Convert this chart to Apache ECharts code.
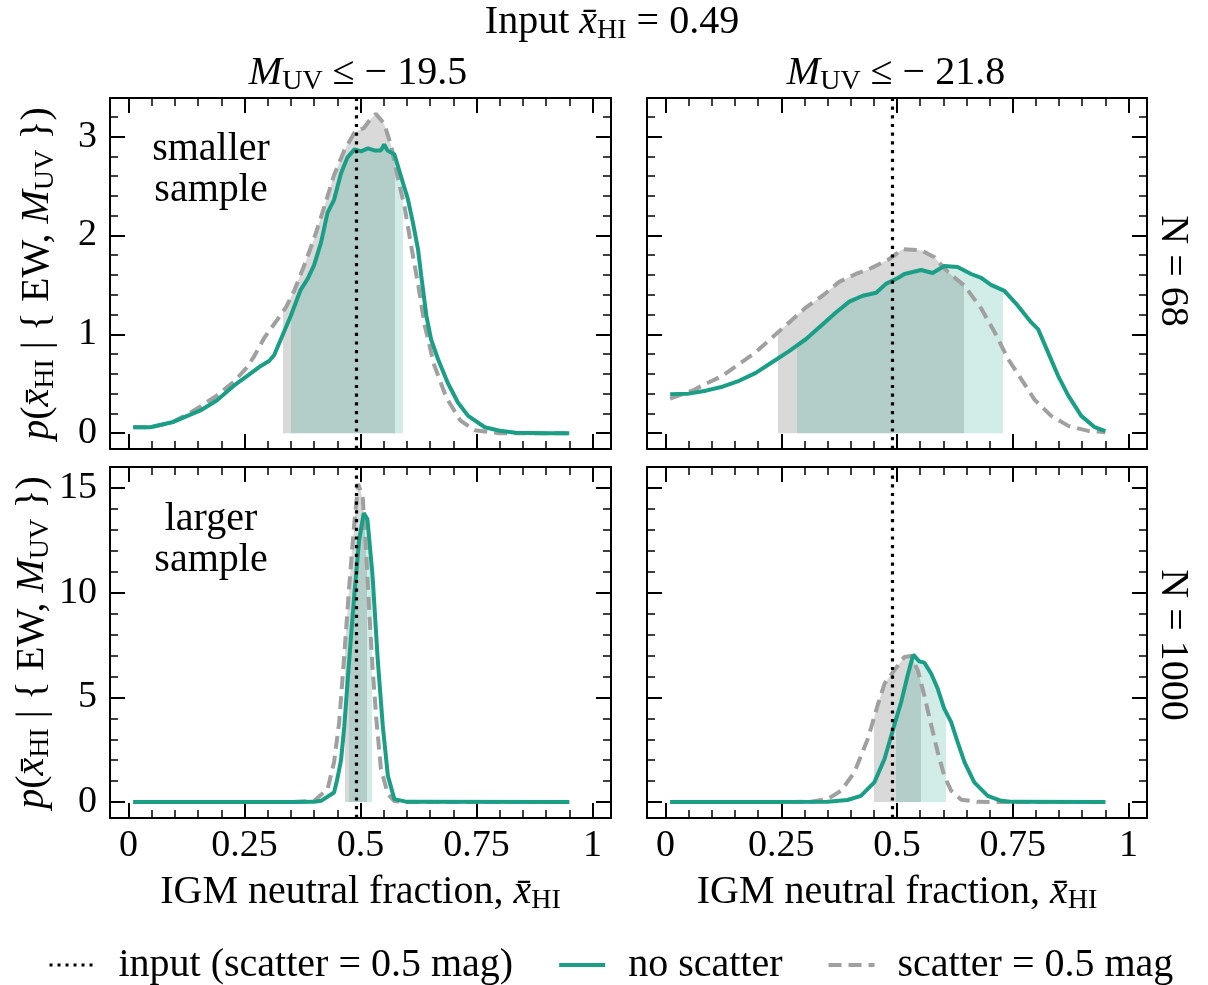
<!DOCTYPE html>
<html><head><meta charset="utf-8">
<script src="https://cdn.jsdelivr.net/npm/echarts@6/dist/echarts.min.js"></script>
<style>html,body{margin:0;padding:0;background:#fff}#c{width:1208px;height:985px}</style>
</head><body><div id="c"></div>
<script>
// ---------------- data ----------------
const xMajorTicks = [0, 0.25, 0.5, 0.75, 1];
const xMinorTicks = [0.05,0.1,0.15,0.2,0.3,0.35,0.4,0.45,0.55,0.6,0.65,0.7,0.8,0.85,0.9,0.95];
const xRange = [-0.04, 1.04];
const yMajorTicksTop = [0, 1, 2, 3];
const yMinorTicksTop = [0.2,0.4,0.6,0.8,1.2,1.4,1.6,1.8,2.2,2.4,2.6,2.8,3.2];
const yRangeTop = [-0.16, 3.39];
const yMajorTicksBottom = [0, 5, 10, 15];
const yMinorTicksBottom = [1,2,3,4,6,7,8,9,11,12,13,14];
const yRangeBottom = [-0.76, 16.0];
const inputXHI = 0.49;

// top-left: M_UV <= -19.5, N = 68
const tlNoScatter = [[0.01,0.06],[0.047,0.06],[0.094,0.11],[0.127,0.175],[0.155,0.23],[0.19,0.33],[0.227,0.48],[0.256,0.58],[0.285,0.68],[0.303,0.73],[0.314,0.79],[0.332,0.99],[0.35,1.19],[0.371,1.45],[0.386,1.56],[0.40,1.70],[0.415,1.93],[0.429,2.23],[0.443,2.36],[0.458,2.63],[0.472,2.79],[0.487,2.87],[0.501,2.85],[0.516,2.88],[0.53,2.86],[0.544,2.86],[0.551,2.92],[0.558,2.86],[0.573,2.82],[0.591,2.54],[0.602,2.37],[0.613,2.13],[0.624,1.86],[0.631,1.59],[0.642,1.19],[0.652,0.95],[0.667,0.75],[0.688,0.51],[0.71,0.31],[0.732,0.175],[0.768,0.06],[0.80,0.025],[0.835,0.005],[0.9,0.0],[0.95,0.0]];
const tlScatter = [[0.01,0.06],[0.047,0.06],[0.094,0.11],[0.127,0.19],[0.155,0.27],[0.19,0.38],[0.227,0.52],[0.256,0.67],[0.271,0.78],[0.292,0.96],[0.321,1.15],[0.339,1.27],[0.357,1.44],[0.379,1.70],[0.40,1.97],[0.422,2.29],[0.443,2.61],[0.465,2.86],[0.487,3.04],[0.508,3.09],[0.519,3.16],[0.533,3.23],[0.551,3.13],[0.566,2.91],[0.58,2.59],[0.595,2.29],[0.609,1.90],[0.624,1.51],[0.638,1.10],[0.658,0.70],[0.685,0.36],[0.715,0.13],[0.746,0.03],[0.8,0.0],[0.95,0.0]];
const tlNoScatterCI = [0.350, 0.591];
const tlScatterCI = [0.334, 0.575];

// top-right: M_UV <= -21.8, N = 68
const trNoScatter = [[0.01,0.395],[0.05,0.40],[0.087,0.43],[0.123,0.47],[0.159,0.53],[0.195,0.61],[0.231,0.72],[0.267,0.83],[0.303,0.95],[0.339,1.10],[0.368,1.22],[0.397,1.33],[0.426,1.39],[0.455,1.42],[0.476,1.51],[0.502,1.57],[0.516,1.61],[0.552,1.65],[0.577,1.62],[0.602,1.69],[0.631,1.68],[0.66,1.61],[0.682,1.57],[0.703,1.50],[0.732,1.44],[0.761,1.29],[0.79,1.12],[0.805,1.05],[0.826,0.82],[0.848,0.58],[0.87,0.38],[0.898,0.175],[0.927,0.06],[0.95,0.02]];
const trScatter = [[0.01,0.35],[0.058,0.43],[0.087,0.50],[0.123,0.58],[0.159,0.70],[0.195,0.82],[0.231,0.97],[0.267,1.12],[0.303,1.27],[0.339,1.39],[0.375,1.53],[0.411,1.61],[0.44,1.66],[0.483,1.76],[0.512,1.86],[0.552,1.85],[0.581,1.78],[0.61,1.63],[0.646,1.49],[0.682,1.26],[0.711,1.02],[0.74,0.75],[0.768,0.55],[0.797,0.34],[0.833,0.175],[0.87,0.074],[0.913,0.023],[0.95,0.01]];
const trNoScatterCI = [0.285, 0.729];
const trScatterCI = [0.242, 0.644];

// bottom-left: M_UV <= -19.5, N = 1000
const blNoScatter = [[0.01,0.0],[0.35,0.0],[0.40,0.01],[0.415,0.06],[0.443,0.46],[0.45,1.1],[0.458,2.0],[0.465,3.6],[0.476,6.9],[0.487,10.0],[0.497,12.5],[0.507,13.8],[0.515,13.5],[0.526,10.8],[0.537,6.85],[0.548,3.65],[0.559,1.26],[0.573,0.14],[0.6,0.01],[0.95,0.0]];
const blScatter = [[0.01,0.0],[0.35,0.0],[0.40,0.06],[0.429,0.62],[0.443,1.9],[0.454,3.8],[0.465,7.0],[0.476,10.4],[0.487,13.4],[0.495,15.2],[0.505,14.5],[0.512,12.0],[0.519,9.1],[0.526,6.4],[0.534,4.0],[0.544,1.6],[0.559,0.38],[0.573,0.05],[0.6,0.0],[0.95,0.0]];
const blNoScatterCI = [0.476, 0.524];
const blScatterCI = [0.467, 0.515];

// bottom-right: M_UV <= -21.8, N = 1000
const brNoScatter = [[0.01,0.0],[0.206,0.0],[0.35,0.02],[0.393,0.1],[0.422,0.3],[0.451,0.94],[0.473,2.06],[0.494,3.66],[0.509,4.78],[0.523,6.05],[0.535,7.04],[0.548,6.72],[0.559,6.66],[0.574,6.13],[0.588,5.41],[0.602,4.46],[0.617,3.82],[0.631,2.86],[0.646,1.9],[0.667,0.94],[0.696,0.3],[0.725,0.06],[0.75,0.01],[0.95,0.0]];
const brScatter = [[0.01,0.0],[0.25,0.0],[0.314,0.02],[0.35,0.14],[0.379,0.54],[0.408,1.42],[0.437,3.02],[0.458,4.61],[0.473,5.65],[0.494,6.29],[0.516,6.93],[0.53,6.98],[0.545,6.29],[0.559,5.09],[0.574,3.66],[0.588,2.38],[0.602,1.26],[0.617,0.54],[0.639,0.11],[0.675,0.01],[0.95,0.0]];
const brNoScatterCI = [0.498, 0.606];
const brScatterCI = [0.451, 0.552];

const seriesNames = ['input (scatter = 0.5 mag)', 'no scatter', 'scatter = 0.5 mag'];

// ---------------- styling / layout ----------------
const SERIF = '"Liberation Serif", "Times New Roman", "DejaVu Serif", serif';
const GREEN = '#1b9e86';
const GREY = '#a0a0a0';
const GREEN_FILL = 'rgba(27,158,134,0.2)';
const GREY_FILL = 'rgba(128,128,128,0.3)';
const FS = 40;
const TICK_FS = 38;
const DASH = [13, 7];
const DOT = [3.2, 5.5];
const RICH = {
  i: {fontFamily: SERIF, fontStyle: 'italic', fontSize: FS, color: '#000', fill: '#000'},
  s: {fontFamily: SERIF, fontSize: 28, padding: [17, 0, 0, 0], color: '#000', fill: '#000'}
};

const panels = [
  {grid: {left: 110, top: 98, width: 501, height: 351}, green: tlNoScatter, grey: tlScatter, gCI: tlNoScatterCI, sCI: tlScatterCI, row: 0, col: 0},
  {grid: {left: 647, top: 98, width: 500, height: 351}, green: trNoScatter, grey: trScatter, gCI: trNoScatterCI, sCI: trScatterCI, row: 0, col: 1},
  {grid: {left: 110, top: 467, width: 501, height: 351}, green: blNoScatter, grey: blScatter, gCI: blNoScatterCI, sCI: blScatterCI, row: 1, col: 0},
  {grid: {left: 647, top: 467, width: 500, height: 351}, green: brNoScatter, grey: brScatter, gCI: brNoScatterCI, sCI: brScatterCI, row: 1, col: 1}
];

const xName = 'IGM neutral fraction, {i|x\u0304}{s|HI}';
const yName = '{i|p}({i|x\u0304}{s|HI} | { EW, {i|M}{s|UV} })';

const grid = [], xAxis = [], yAxis = [], series = [], visualMap = [];

function axisCommon(ticks, len, w, showLine, showLabel) {
  return {
    axisLine: {show: showLine, onZero: false, lineStyle: {color: '#000', width: 2}},
    axisTick: {show: true, inside: true, length: len, customValues: ticks, lineStyle: {color: '#000', width: w}},
    axisLabel: {show: showLabel, customValues: ticks, color: '#000', fontFamily: SERIF, fontSize: TICK_FS},
    splitLine: {show: false},
    minorTick: {show: false}
  };
}

panels.forEach((p, g) => {
  grid.push(Object.assign({outerBoundsMode: 'none', containLabel: false}, p.grid));
  const yr = p.row === 0 ? yRangeTop : yRangeBottom;
  const yMaj = p.row === 0 ? yMajorTicksTop : yMajorTicksBottom;
  const yMin = p.row === 0 ? yMinorTicksTop : yMinorTicksBottom;
  const base = 4 * g;
  // x axes
  const xMain = Object.assign({type: 'value', gridIndex: g, position: 'bottom', min: xRange[0], max: xRange[1]},
    axisCommon(xMajorTicks, 15, 2, true, p.row === 1));
  xMain.axisLabel.margin = 9;
  if (p.row === 1) {
    xMain.name = xName; xMain.nameLocation = 'middle'; xMain.nameGap = 52;
    xMain.nameTextStyle = {fontFamily: SERIF, fontSize: FS, color: '#000', rich: RICH};
  }
  xAxis.push(xMain);
  xAxis.push(Object.assign({type: 'value', gridIndex: g, position: 'top', min: xRange[0], max: xRange[1]}, axisCommon(xMajorTicks, 15, 2, true, false)));
  xAxis.push(Object.assign({type: 'value', gridIndex: g, position: 'bottom', min: xRange[0], max: xRange[1]}, axisCommon(xMinorTicks, 8, 1.5, false, false)));
  xAxis.push(Object.assign({type: 'value', gridIndex: g, position: 'top', min: xRange[0], max: xRange[1]}, axisCommon(xMinorTicks, 8, 1.5, false, false)));
  // y axes
  const yMainAx = Object.assign({type: 'value', gridIndex: g, position: 'left', min: yr[0], max: yr[1]},
    axisCommon(yMaj, 15, 2, true, p.col === 0));
  yMainAx.axisLabel.margin = 13;
  if (p.col === 0) {
    yMainAx.name = yName; yMainAx.nameLocation = 'middle'; yMainAx.nameGap = 50; yMainAx.nameRotate = 90;
    yMainAx.nameTextStyle = {fontFamily: SERIF, fontSize: FS, color: '#000', rich: RICH};
  }
  yAxis.push(yMainAx);
  yAxis.push(Object.assign({type: 'value', gridIndex: g, position: 'right', min: yr[0], max: yr[1]}, axisCommon(yMaj, 15, 2, true, false)));
  yAxis.push(Object.assign({type: 'value', gridIndex: g, position: 'left', min: yr[0], max: yr[1]}, axisCommon(yMin, 8, 1.5, false, false)));
  yAxis.push(Object.assign({type: 'value', gridIndex: g, position: 'right', min: yr[0], max: yr[1]}, axisCommon(yMin, 8, 1.5, false, false)));

  const ax = {xAxisIndex: base, yAxisIndex: base};
  // credible-interval fills
  [[p.grey, p.sCI, GREY_FILL], [p.green, p.gCI, GREEN_FILL]].forEach(([d, ci, col]) => {
    visualMap.push({type: 'piecewise', show: false, seriesIndex: series.length, dimension: 0,
      pieces: [{gte: ci[0], lte: ci[1], color: col}], outOfRange: {color: 'rgba(255,255,255,0)'}});
    series.push(Object.assign({type: 'line', name: 'ci' + series.length, data: d, symbol: 'none', silent: true, z: 1,
      lineStyle: {width: 0, opacity: 0}, areaStyle: {opacity: 1}}, ax));
  });
  series.push(Object.assign({type: 'line', name: seriesNames[2], data: p.grey, symbol: 'none', silent: true, z: 2,
    itemStyle: {color: GREY}, lineStyle: {color: GREY, width: 4, type: DASH}}, ax));
  series.push(Object.assign({type: 'line', name: seriesNames[1], data: p.green, symbol: 'none', silent: true, z: 3,
    itemStyle: {color: GREEN}, lineStyle: {color: GREEN, width: 4}}, ax));
  series.push(Object.assign({type: 'line', name: seriesNames[0], data: [], symbol: 'none', silent: true, z: 4,
    itemStyle: {color: '#000'}, lineStyle: {color: '#000', width: 3.2, type: DOT},
    markLine: {silent: true, symbol: ['none', 'none'], label: {show: false}, animation: false,
      lineStyle: {color: '#000', width: 3.2, type: DOT}, data: [{xAxis: inputXHI}]}}, ax));
});

const txt = (x, y, text, extra) => Object.assign({type: 'text', x: x, y: y, silent: true,
  style: {text: text, fontFamily: SERIF, fontSize: FS, fill: '#000', align: 'center', verticalAlign: 'middle', rich: RICH}}, extra || {});

const option = {
  animation: false,
  backgroundColor: '#fff',
  grid, xAxis, yAxis, series, visualMap,
  legend: {
    left: 43, top: 940, itemWidth: 46, itemHeight: 20, itemGap: 44, selectedMode: false,
    textStyle: {fontFamily: SERIF, fontSize: FS, color: '#000', padding: [0, 0, 0, 18]},
    data: [
      {name: seriesNames[0], itemStyle: {opacity: 0}, lineStyle: {color: '#000', width: 3, type: [3, 5]}},
      {name: seriesNames[1], itemStyle: {opacity: 0}, lineStyle: {color: GREEN, width: 4}},
      {name: seriesNames[2], itemStyle: {opacity: 0}, lineStyle: {color: GREY, width: 4, type: [13, 7]}}
    ]
  },
  graphic: [
    txt(612, 22, 'Input {i|x\u0304}{s|HI} = 0.49'),
    txt(358, 73, '{i|M}{s|UV} \u2264 \u2212 19.5'),
    txt(896, 73, '{i|M}{s|UV} \u2264 \u2212 21.8'),
    txt(1172, 271, 'N = 68', {rotation: -Math.PI / 2}),
    txt(1172, 645, 'N = 1000', {rotation: -Math.PI / 2}),
    txt(211, 170, 'smaller\nsample'),
    txt(211, 540, 'larger\nsample')
  ]
};
option.graphic[5].style.lineHeight = 41;
option.graphic[6].style.lineHeight = 41;

const chart = echarts.init(document.getElementById('c'), null, {renderer: 'canvas'});
chart.setOption(option);
</script>
</body></html>
